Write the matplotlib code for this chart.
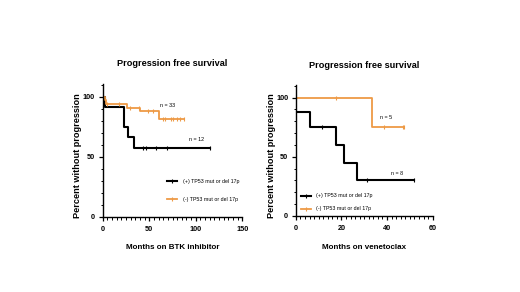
import matplotlib
matplotlib.use("Agg")
import matplotlib.pyplot as plt
import numpy as np
from matplotlib.ticker import MultipleLocator

# Kaplan-Meier Stufen (Zeit in Monaten, Prozent ohne Progression)
btk_pos_t = [0, 2, 23, 27, 34, 115]
btk_pos_s = [100, 91.7, 75, 66.7, 57.1, 57.1]
btk_pos_cens = [43, 47, 57.5, 69, 115]
btk_neg_t = [0, 2, 4, 26, 40, 60, 87]
btk_neg_s = [100, 97, 93.9, 90.9, 87.9, 81.8, 81.8]
btk_neg_cens = [5, 18, 29, 38.5, 49, 54, 65, 67, 73, 76, 80, 83, 87]

ven_pos_t = [0, 6, 17.6, 21.2, 26.6, 51.8]
ven_pos_s = [87.5, 75, 60, 45, 30, 30]
ven_pos_cens = [11.3, 31.3, 51.8]
ven_neg_t = [0, 33.5, 47.4]
ven_neg_s = [100, 75, 75]
ven_neg_cens = [17.6, 38.6, 46.9, 47.4]

labels = ["(+) TP53 mut or del 17p", "(-) TP53 mut or del 17p"]
n_btk = ["n = 12", "n = 33"]
n_ven = ["n = 8", "n = 5"]

schwarz = "black"
orange = "#EE9A45"
plt.rcParams['font.family'] = ['Liberation Sans', 'DejaVu Sans']

def stufe(t, s, ct):
    idx = np.searchsorted(t, ct, side="right") - 1
    return np.array(s)[idx]

def kurve(ax, t, s, cens, farbe, lw, label):
    ax.plot(t, s, drawstyle="steps-post", color=farbe, lw=lw)
    ax.plot(cens, stufe(t, s, cens), ls="none", marker="|", ms=3, mew=0.8, color=farbe)
    # Legenden-Handle: Linie mit Zensur-Strich
    h, = ax.plot([], [], color=farbe, lw=lw, marker="|", ms=3, mew=0.8, label=label)
    return h

fig = plt.figure(figsize=(5.2, 2.92), dpi=100)
ax1 = fig.add_axes([0.1975, 0.258, 0.2685, 0.456])
ax2 = fig.add_axes([0.569, 0.261, 0.263, 0.448])

h1 = kurve(ax1, btk_pos_t, btk_pos_s, btk_pos_cens, schwarz, 1.5, labels[0])
h2 = kurve(ax1, btk_neg_t, btk_neg_s, btk_neg_cens, orange, 1.3, labels[1])
h3 = kurve(ax2, ven_pos_t, ven_pos_s, ven_pos_cens, schwarz, 1.5, labels[0])
h4 = kurve(ax2, ven_neg_t, ven_neg_s, ven_neg_cens, orange, 1.3, labels[1])

ax1.text(101, 64.7, n_btk[0], fontsize=3.9, ha="center", va="center")
ax1.text(70.2, 92.5, n_btk[1], fontsize=3.9, ha="center", va="center")
ax2.text(44.2, 35.9, n_ven[0], fontsize=3.9, ha="center", va="center")
ax2.text(39.5, 83, n_ven[1], fontsize=3.9, ha="center", va="center")

ax1.set_xlim(0, 150); ax2.set_xlim(0, 60)
ax1.set_ylim(0, 111); ax2.set_ylim(0, 110.7)
ax1.xaxis.set_major_locator(MultipleLocator(50)); ax1.xaxis.set_minor_locator(MultipleLocator(5))
ax2.xaxis.set_major_locator(MultipleLocator(20)); ax2.xaxis.set_minor_locator(MultipleLocator(2))

for ax, xl in [(ax1, "Months on BTK inhibitor"), (ax2, "Months on venetoclax")]:
    ax.yaxis.set_major_locator(MultipleLocator(50))
    ax.yaxis.set_minor_locator(MultipleLocator(10))
    for sp in ["top", "right"]:
        ax.spines[sp].set_visible(False)
    ax.spines["left"].set_linewidth(1.0)
    ax.spines["bottom"].set_linewidth(1.0)
    ax.tick_params(which="major", length=3, width=0.9, pad=2.5)
    ax.tick_params(axis="x", which="major", pad=3.5)
    ax.tick_params(which="minor", length=1.8, width=0.7)
    for lab in ax.get_xticklabels() + ax.get_yticklabels():
        lab.set_fontweight("bold"); lab.set_fontsize(5.2)
    ax.set_title("Progression free survival", fontsize=6.6, fontweight="bold", pad=12.5)
    ax.set_xlabel(xl, fontsize=5.8, fontweight="bold", labelpad=8.5)
    ax.set_ylabel("Percent without progression", fontsize=6.6, fontweight="bold")
    ax.yaxis.set_label_coords(-0.145, 0.46)

ax1.legend(handles=[h1, h2], loc="center left", bbox_to_anchor=(0.46, 0.198), frameon=False,
           prop={"size": 3.8}, handlelength=2.0, handletextpad=1.0,
           labelspacing=2.4, borderpad=0, borderaxespad=0)
ax2.legend(handles=[h3, h4], loc="center left", bbox_to_anchor=(0.034, 0.102), frameon=False,
           prop={"size": 3.8}, handlelength=2.0, handletextpad=1.0,
           labelspacing=1.5, borderpad=0, borderaxespad=0)

plt.savefig("out.png", dpi=100)
